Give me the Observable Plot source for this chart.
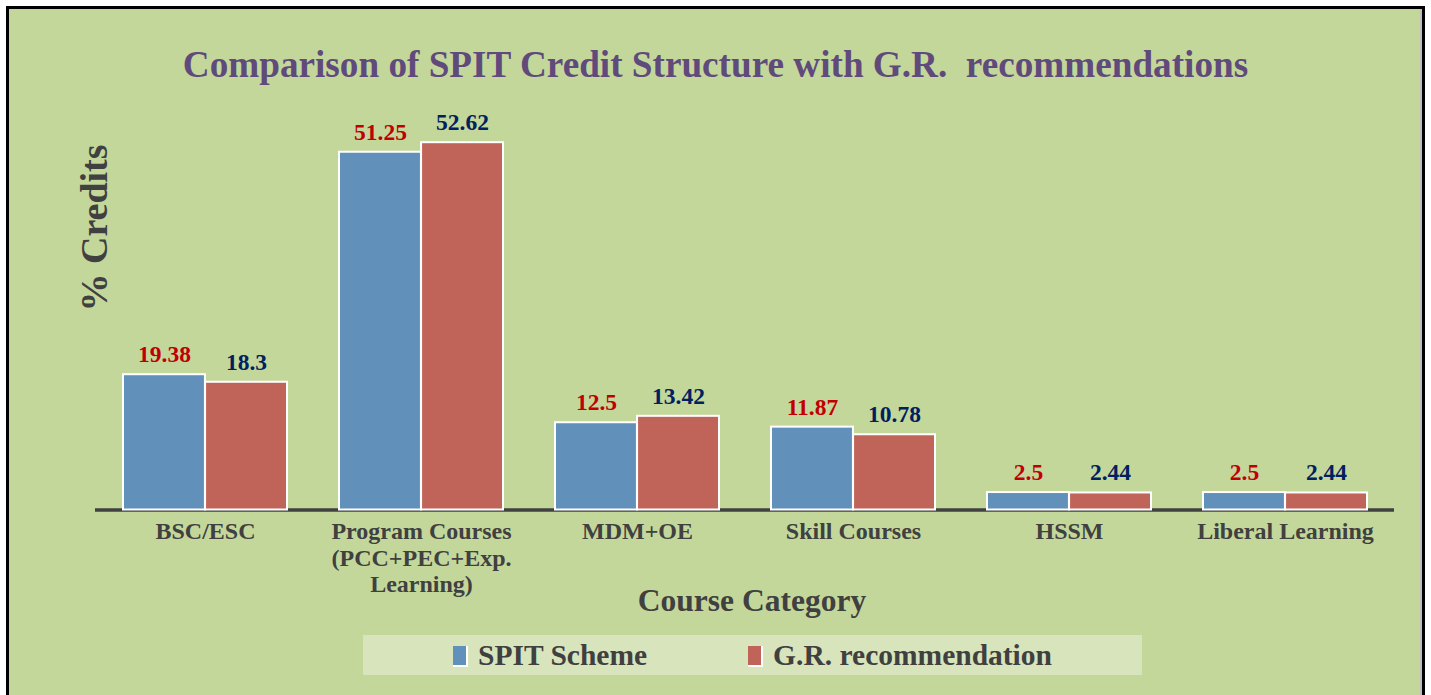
<!DOCTYPE html>
<html>
<head>
<meta charset="utf-8">
<script src="https://cdn.jsdelivr.net/npm/d3@7"></script>
<script src="https://cdn.jsdelivr.net/npm/@observablehq/plot@0.6"></script>
<style>
  html, body { margin: 0; padding: 0; background: #ffffff; width: 1431px; height: 695px; overflow: hidden; }
  body { position: relative; font-family: "Liberation Serif", "Times New Roman", serif; font-weight: bold; }
  #frame { position: absolute; left: 6px; top: 6px; width: 1413px; height: 690px; border: 3px solid #000; background: #c4d79b; box-shadow: inset -2px -2px 0 #bdbdbd; }
  .txt { position: absolute; white-space: nowrap; line-height: 1; }
  #title { left: 0; width: 1431px; top: 46px; text-align: center; font-size: 37.2px; color: #604a7b; }
  #ylabel { width: 300px; height: 40px; line-height: 40px; left: -56px; top: 208px; text-align: center; font-size: 38px; color: #404040; transform: rotate(-90deg); }
  #xlabel { left: 452px; width: 600px; top: 585px; text-align: center; font-size: 31.5px; color: #404040; }
  #legend { position: absolute; left: 363px; top: 635px; width: 779px; height: 40px; background: #d8e4bc; display: flex; justify-content: center; align-items: center; font-size: 29.5px; color: #404040; }
  .item { display: flex; align-items: flex-end; }
  .sw { width: 13px; height: 19px; border-right: 2px solid #fff; border-bottom: 2px solid #fff; margin-right: 10px; margin-bottom: 5px; }
  #chart { position: absolute; left: 0; top: 90px; }
</style>
</head>
<body>
<div id="frame"></div>
<div id="title" class="txt">Comparison of SPIT Credit Structure with G.R.&nbsp; recommendations</div>
<div id="ylabel" class="txt">% Credits</div>
<div id="xlabel" class="txt">Course Category</div>
<div id="chart"></div>
<div id="legend"></div>
<script>
const categories = [
  "BSC/ESC",
  "Program Courses\n(PCC+PEC+Exp.\nLearning)",
  "MDM+OE",
  "Skill Courses",
  "HSSM",
  "Liberal Learning"
];
const spitScheme = [19.38, 51.25, 12.5, 11.87, 2.5, 2.5];
const grRecommendation = [18.3, 52.62, 13.42, 10.78, 2.44, 2.44];
const seriesNames = ["SPIT Scheme", "G.R. recommendation"];
const seriesColors = ["#6190ba", "#c0645a"];
const labelColors = ["#c00000", "#002060"];

const data = categories.map((c, i) => ({category: c, spit: spitScheme[i], gr: grRecommendation[i]}));

const W = 1431, H = 530;
const mL = 95, mR = W - 1394;
const pInner = 0.243, pOuter = 0.117;
const bw = d3.scaleBand().domain(categories).range([mL, W - mR]).paddingInner(pInner).paddingOuter(pOuter).bandwidth();

const chart = Plot.plot({
  width: W,
  height: H,
  marginLeft: mL,
  marginRight: mR,
  marginTop: 28.6,
  marginBottom: 110.5,
  style: {background: "transparent", fontFamily: "'Liberation Serif', 'Times New Roman', serif", fontWeight: "bold"},
  x: {domain: categories, paddingInner: pInner, paddingOuter: pOuter},
  y: {domain: [0, 56], axis: null},
  marks: [
    Plot.ruleY([0], {stroke: "#404040", strokeWidth: 3.3}),
    Plot.barY(data, {x: "category", y: "spit", fill: seriesColors[0], stroke: "#ffffff", strokeWidth: 2, insetRight: bw / 2}),
    Plot.barY(data, {x: "category", y: "gr", fill: seriesColors[1], stroke: "#ffffff", strokeWidth: 2, insetLeft: bw / 2}),
    Plot.text(data, {x: "category", y: "spit", text: d => String(d.spit), dx: -bw / 4, dy: -20, fill: labelColors[0], fontSize: 23.5, fontWeight: "bold"}),
    Plot.text(data, {x: "category", y: "gr", text: d => String(d.gr), dx: bw / 4, dy: -20, fill: labelColors[1], fontSize: 23.5, fontWeight: "bold"}),
    Plot.axisX({tickSize: 0, tickPadding: 10, fontSize: 24, fontWeight: "bold", fill: "#404040", lineHeight: 1.11, label: null})
  ]
});
document.getElementById("chart").appendChild(chart);

const legend = document.getElementById("legend");
seriesNames.forEach((name, i) => {
  const item = document.createElement("div");
  item.className = "item";
  if (i === 0) item.style.marginRight = "101px";
  const sw = document.createElement("div");
  sw.className = "sw";
  sw.style.background = seriesColors[i];
  const t = document.createElement("span");
  t.textContent = name;
  item.appendChild(sw);
  item.appendChild(t);
  legend.appendChild(item);
});
</script>
</body>
</html>
